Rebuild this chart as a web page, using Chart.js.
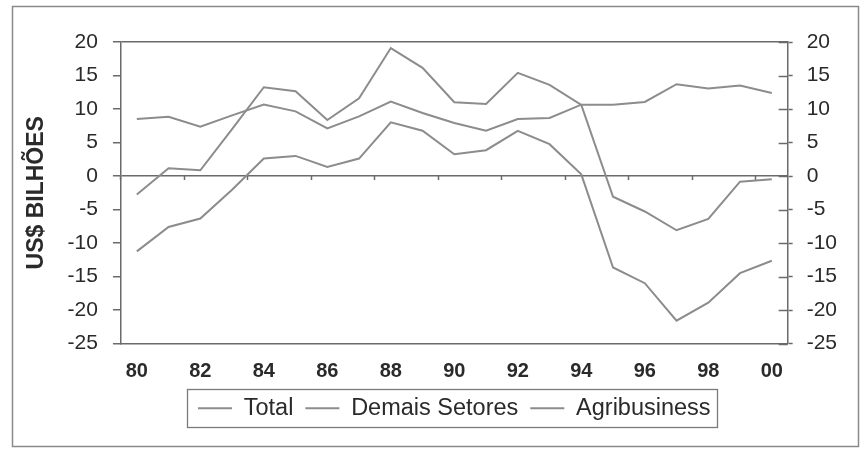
<!DOCTYPE html>
<html><head><meta charset="utf-8">
<script src="https://cdn.jsdelivr.net/npm/chart.js@4.4.1/dist/chart.umd.min.js"></script>
<style>html,body{margin:0;padding:0;background:#fff}#wrap{width:863px;height:468px}</style>
</head><body><div id="wrap"><canvas id="c" width="863" height="468"></canvas></div>
<script>
// ---- data ----
const years = ['80','81','82','83','84','85','86','87','88','89','90','91','92','93','94','95','96','97','98','99','00'];
const total = [-2.75, 1.15, 0.85, 7.0, 13.25, 12.65, 8.35, 11.6, 19.1, 16.15, 11.0, 10.75, 15.4, 13.6, 10.6, -3.1, -5.3, -8.1, -6.4, -0.85, -0.5];
const demaisSetores = [-11.25, -7.6, -6.35, -2.05, 2.6, 3.0, 1.35, 2.6, 8.0, 6.75, 3.25, 3.85, 6.75, 4.75, 0.25, -13.65, -16.0, -21.6, -18.9, -14.5, -12.65];
const agribusiness = [8.5, 8.85, 7.35, 9.05, 10.65, 9.65, 7.1, 8.9, 11.1, 9.4, 7.9, 6.75, 8.5, 8.65, 10.65, 10.65, 11.05, 13.7, 13.05, 13.5, 12.4];
const seriesNames = ['Total', 'Demais Setores', 'Agribusiness'];
const yMin = -25, yMax = 20, yStep = 5;
const yTitle = 'US$ BILHÕES';

const LINE = '#8c8c8c', AXIS = '#6a6a6a', TEXT = '#2a2a2a';
Chart.defaults.font.family = "'Liberation Sans', Arial, sans-serif";
Chart.defaults.color = TEXT;

const decor = {
  id: 'decor',
  beforeDraw(chart) {
    const ctx = chart.ctx;
    ctx.save();
    ctx.fillStyle = '#fff';
    ctx.fillRect(0, 0, chart.width, chart.height);
    ctx.strokeStyle = '#8a8a8a';
    ctx.lineWidth = 1.5;
    ctx.strokeRect(12.5, 6.5, 846, 440);
    ctx.restore();
  },
  afterDraw(chart) {
    const ctx = chart.ctx, ca = chart.chartArea;
    ctx.save();
    // inner half of the crossing tick marks on the right axis
    const s = chart.scales.y2;
    ctx.strokeStyle = AXIS; ctx.lineWidth = 1.5;
    s.ticks.forEach(t => {
      const y = Math.round(s.getPixelForValue(t.value)) + 0.5;
      ctx.beginPath(); ctx.moveTo(ca.right - 9, y); ctx.lineTo(ca.right, y); ctx.stroke();
    });
    // legend frame
    const hb = chart.legend.legendHitBoxes;
    if (hb && hb.length) {
      const first = hb[0], last = hb[hb.length - 1];
      const x1 = first.left - 11, x2 = last.left + last.width + 6;
      const cy = first.top + first.height / 2;
      ctx.strokeStyle = '#7a7a7a'; ctx.lineWidth = 1.3;
      ctx.strokeRect(Math.round(x1) + 0.5, Math.round(cy - 19) + 0.5, Math.round(x2 - x1), 38);
    }
    ctx.restore();
  }
};

const mk = (label, data) => ({
  label, data, borderColor: LINE, backgroundColor: LINE, borderWidth: 2,
  pointRadius: 0, tension: 0, fill: false, xAxisID: 'x', yAxisID: 'y'
});

new Chart(document.getElementById('c'), {
  type: 'line',
  data: {
    labels: years,
    datasets: [mk(seriesNames[0], total), mk(seriesNames[1], demaisSetores), mk(seriesNames[2], agribusiness)]
  },
  options: {
    responsive: false,
    animation: false,
    layout: { padding: { left: 23, right: 12, top: 42, bottom: 38 } },
    plugins: {
      tooltip: { enabled: false },
      legend: {
        position: 'bottom',
        fullSize: false,
        labels: {
          usePointStyle: true, pointStyle: 'line', pointStyleWidth: 34,
          boxHeight: 2, padding: 12, color: TEXT,
          font: { size: 23.5 }
        }
      }
    },
    scales: {
      x: {
        type: 'category', position: 'bottom', offset: true,
        afterFit: s => { s.height = s.height - 15; },
        grid: { display: true, drawOnChartArea: false, drawTicks: false, offset: true },
        border: { display: true, color: AXIS, width: 1.5 },
        ticks: {
          autoSkip: false, maxRotation: 0, padding: 16, color: TEXT,
          font: { size: 20, weight: 'bold' },
          callback: (v, i) => (i % 2 === 0 ? years[i] : '')
        }
      },
      x0: {
        type: 'category', position: { y: 0 }, offset: true,
        grid: {
          display: true, drawOnChartArea: false, drawTicks: true, tickLength: 4, offset: true,
          tickColor: c => (c.index % 2 === 0 ? AXIS : 'rgba(0,0,0,0)'), tickWidth: 1.5
        },
        border: { display: false },
        ticks: { display: false, autoSkip: false }
      },
      y: {
        position: 'left', min: yMin, max: yMax,
        ticks: { stepSize: yStep, padding: 15, color: TEXT, font: { size: 21 } },
        grid: {
          drawOnChartArea: true, drawTicks: true, tickLength: 8, tickColor: AXIS, tickWidth: 1.5,
          color: c => ((c.tick && (c.tick.value === 0 || c.tick.value === yMax)) ? AXIS : 'rgba(0,0,0,0)'),
          lineWidth: 1.5
        },
        border: { display: true, color: AXIS, width: 1.5 },
        title: { display: true, text: yTitle, color: TEXT, font: { size: 23, weight: 'bold' }, padding: { top: 0, bottom: 2 } }
      },
      y2: {
        position: 'right', min: yMin, max: yMax,
        ticks: { stepSize: yStep, padding: 14, color: TEXT, font: { size: 21 } },
        grid: { drawOnChartArea: false, drawTicks: true, tickLength: 5, tickColor: AXIS, tickWidth: 1.5 },
        border: { display: true, color: AXIS, width: 1.5 }
      }
    }
  },
  plugins: [decor]
});
</script>
</body></html>
